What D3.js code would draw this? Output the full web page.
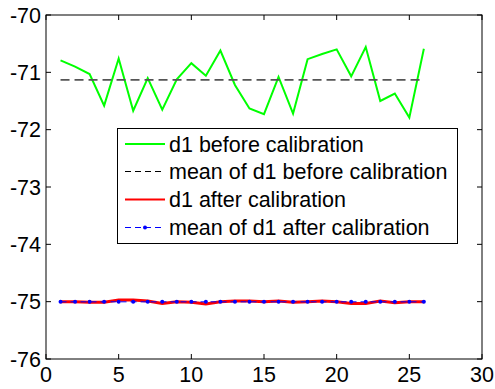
<!DOCTYPE html>
<html>
<head>
<meta charset="utf-8">
<script src="https://cdn.jsdelivr.net/npm/d3@7"></script>
<style>
  html, body { margin: 0; padding: 0; background: #fff; }
  svg { display: block; font-family: Arial, "Liberation Sans", sans-serif; }
</style>
</head>
<body>
<svg id="chart" width="495" height="389"></svg>
<script>
// Sample index 1..26
const samples = d3.range(1, 27);

// d1 readings before calibration
const d1Before = [-70.79, -70.90, -71.03, -71.58, -70.76, -71.67, -71.10, -71.65, -71.12, -70.84,
                  -71.06, -70.62, -71.22, -71.63, -71.73, -71.08, -71.72, -70.77, -70.68, -70.60,
                  -71.07, -70.56, -71.50, -71.37, -71.79, -70.59];

// d1 readings after calibration
const d1After = [-75.00, -75.00, -75.01, -75.01, -74.97, -74.97, -74.99, -75.03, -75.00, -75.01,
                 -75.04, -75.00, -74.99, -74.99, -75.00, -74.99, -75.01, -75.00, -74.99, -75.00,
                 -75.03, -75.03, -74.99, -75.02, -75.00, -75.00];

const meanBefore = d3.mean(d1Before);
const meanAfter = d3.mean(d1After);

const xTicks = [0, 5, 10, 15, 20, 25, 30];
const yTicks = [-76, -75, -74, -73, -72, -71, -70];

const legendLabels = [
  "d1 before calibration",
  "mean of d1 before calibration",
  "d1 after calibration",
  "mean of d1 after calibration"
];

const svg = d3.select("#chart");
const margin = { left: 46, right: 13, top: 15, bottom: 30 };
const W = 495, H = 389;
const fontSize = 21.5;

const x = d3.scaleLinear().domain([0, 30]).range([margin.left, W - margin.right]);
const y = d3.scaleLinear().domain([-76, -70]).range([H - margin.bottom, margin.top]);

// Axes box
svg.append("rect")
  .attr("x", x(0)).attr("y", y(-70))
  .attr("width", x(30) - x(0)).attr("height", y(-76) - y(-70))
  .attr("fill", "#fff").attr("stroke", "#000").attr("stroke-width", 1);

// Ticks (inward, on both sides)
const tickLen = 5;
const axisG = svg.append("g").attr("stroke", "#000").attr("stroke-width", 1);
xTicks.forEach(t => {
  axisG.append("line").attr("x1", x(t)).attr("x2", x(t)).attr("y1", y(-76)).attr("y2", y(-76) - tickLen);
  axisG.append("line").attr("x1", x(t)).attr("x2", x(t)).attr("y1", y(-70)).attr("y2", y(-70) + tickLen);
});
yTicks.forEach(t => {
  axisG.append("line").attr("x1", x(0)).attr("x2", x(0) + tickLen).attr("y1", y(t)).attr("y2", y(t));
  axisG.append("line").attr("x1", x(30)).attr("x2", x(30) - tickLen).attr("y1", y(t)).attr("y2", y(t));
});

// Tick labels
svg.append("g").selectAll("text").data(xTicks).join("text")
  .attr("x", d => x(d)).attr("y", y(-76) + 23)
  .attr("text-anchor", "middle").attr("font-size", fontSize).attr("fill", "#000")
  .text(d => d);
svg.append("g").selectAll("text").data(yTicks).join("text")
  .attr("x", x(0) - 5).attr("y", d => y(d) + 7.5)
  .attr("text-anchor", "end").attr("font-size", fontSize).attr("fill", "#000")
  .text(d => d);

const line = d3.line().x((d, i) => x(samples[i])).y(d => y(d));

// Before calibration
svg.append("path").datum(d1Before)
  .attr("d", line).attr("fill", "none")
  .attr("stroke", "#00ff00").attr("stroke-width", 2).attr("stroke-linejoin", "miter");

svg.append("path").datum(samples.map(() => meanBefore))
  .attr("d", line).attr("fill", "none")
  .attr("stroke", "#555").attr("stroke-width", 1.8).attr("stroke-dasharray", "9,5");

// After calibration
svg.append("path").datum(d1After)
  .attr("d", line).attr("fill", "none")
  .attr("stroke", "#ff0000").attr("stroke-width", 3);

svg.append("path").datum(samples.map(() => meanAfter))
  .attr("d", line).attr("fill", "none")
  .attr("stroke", "#0000ff").attr("stroke-width", 1).attr("stroke-dasharray", "6,4");

svg.append("g").selectAll("circle").data(samples).join("circle")
  .attr("cx", d => x(d)).attr("cy", y(meanAfter)).attr("r", 2)
  .attr("fill", "#0000ff");

// Legend
const lg = svg.append("g");
lg.append("rect")
  .attr("x", 117.5).attr("y", 128.5).attr("width", 340).attr("height", 115)
  .attr("fill", "#fff").attr("stroke", "#000").attr("stroke-width", 1);

const rowY = [144, 171.5, 199.5, 227.5];
const sx1 = 125, sx2 = 165;
lg.append("line").attr("x1", sx1).attr("x2", sx2).attr("y1", rowY[0]).attr("y2", rowY[0])
  .attr("stroke", "#00ff00").attr("stroke-width", 2);
lg.append("line").attr("x1", sx1).attr("x2", sx2).attr("y1", rowY[1]).attr("y2", rowY[1])
  .attr("stroke", "#000").attr("stroke-width", 1).attr("stroke-dasharray", "6,4");
lg.append("line").attr("x1", sx1).attr("x2", sx2).attr("y1", rowY[2]).attr("y2", rowY[2])
  .attr("stroke", "#ff0000").attr("stroke-width", 2);
lg.append("line").attr("x1", sx1).attr("x2", sx2).attr("y1", rowY[3]).attr("y2", rowY[3])
  .attr("stroke", "#0000ff").attr("stroke-width", 1).attr("stroke-dasharray", "6,4");
lg.append("circle").attr("cx", (sx1 + sx2) / 2).attr("cy", rowY[3]).attr("r", 2).attr("fill", "#0000ff");

lg.selectAll("text.lab").data(legendLabels).join("text")
  .attr("class", "lab")
  .attr("x", 169).attr("y", (d, i) => rowY[i] + 7.5)
  .attr("font-size", fontSize).attr("fill", "#000")
  .text(d => d);
</script>
</body>
</html>
